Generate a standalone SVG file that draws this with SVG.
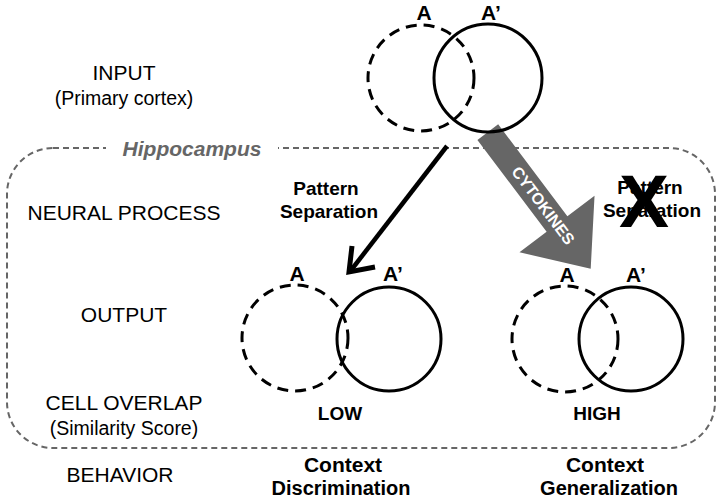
<svg xmlns="http://www.w3.org/2000/svg" width="720" height="502" viewBox="0 0 720 502">
<style>
text{font-family:"Liberation Sans",Arial,sans-serif;fill:#000}
.lbl{font-size:21px;text-anchor:middle}
.sub{font-size:19.5px;text-anchor:middle}
.b{font-weight:bold;text-anchor:middle}
.ab{font-weight:bold;font-size:21px;text-anchor:middle}
.dc{fill:none;stroke:#000;stroke-width:3;stroke-dasharray:11 7}
.sc{fill:none;stroke:#000;stroke-width:3}
</style>
<rect width="720" height="502" fill="#fff"/>
<g id="hippocampus">
<rect x="7" y="148" width="708" height="300" rx="46" ry="46" fill="none" stroke="#666" stroke-width="2" stroke-dasharray="6 4"/>
<rect x="106" y="140" width="172" height="16" fill="#fff"/>
<text x="192" y="156" style="font-size:21px;font-weight:bold;font-style:italic;fill:#666;text-anchor:middle">Hippocampus</text>
</g>
<g id="labels">
<text class="lbl" x="124" y="80">INPUT</text>
<text class="sub" x="124" y="105">(Primary cortex)</text>
<text class="lbl" x="124" y="220">NEURAL PROCESS</text>
<text class="lbl" x="124" y="322">OUTPUT</text>
<text class="lbl" x="124" y="410">CELL OVERLAP</text>
<text class="sub" x="124" y="435">(Similarity Score)</text>
<text class="lbl" x="120" y="482">BEHAVIOR</text>
</g>
<g id="connectors">
<line x1="447" y1="146" x2="352" y2="269" stroke="#000" stroke-width="4.5"/>
<polyline points="352,246 349,272 375,267" fill="none" stroke="#000" stroke-width="5" stroke-linejoin="miter"/>
<g id="cytokines" transform="translate(557,224) rotate(53)">
<polygon points="-115,-13 0,-13 0,-47 56,0 0,47 0,13 -115,13" fill="#666"/>
<text x="-23" y="5.5" style="font-size:16px;font-weight:bold;fill:#fff;text-anchor:middle">CYTOKINES</text>
</g>
</g>
<g id="input">
<circle class="dc" cx="421" cy="78" r="53"/>
<circle class="sc" cx="488" cy="78" r="54"/>
<text class="ab" x="424" y="20">A</text>
<text class="ab" x="491" y="20">A’</text>
</g>
<g id="sep-left">
<text class="b" style="font-size:19px" x="326" y="195">Pattern</text>
<text class="b" style="font-size:19px" x="329" y="218">Separation</text>
</g>
<g id="sep-right">
<text class="b" style="font-size:19px" x="650" y="194">Pattern</text>
<text class="b" style="font-size:19px" x="652" y="217">Separation</text>
<text class="b" style="font-size:75px" x="644" y="227">X</text>
</g>
<g id="output-low">
<circle class="dc" cx="295" cy="338" r="53"/>
<circle class="sc" cx="389" cy="339" r="52"/>
<text class="ab" x="297" y="281">A</text>
<text class="ab" x="393" y="281">A’</text>
<text class="b" style="font-size:19px" x="340" y="420">LOW</text>
</g>
<g id="output-high">
<circle class="dc" cx="565" cy="339" r="53"/>
<circle class="sc" cx="631" cy="339" r="52"/>
<text class="ab" x="567" y="282">A</text>
<text class="ab" x="636" y="282">A’</text>
<text class="b" style="font-size:19px" x="597" y="420">HIGH</text>
</g>
<g id="behavior-left">
<text class="b" style="font-size:21px" x="343" y="472">Context</text>
<text class="b" style="font-size:20px" x="341" y="495">Discrimination</text>
</g>
<g id="behavior-right">
<text class="b" style="font-size:21px" x="605" y="472">Context</text>
<text class="b" style="font-size:20px" x="609" y="495">Generalization</text>
</g>
</svg>
